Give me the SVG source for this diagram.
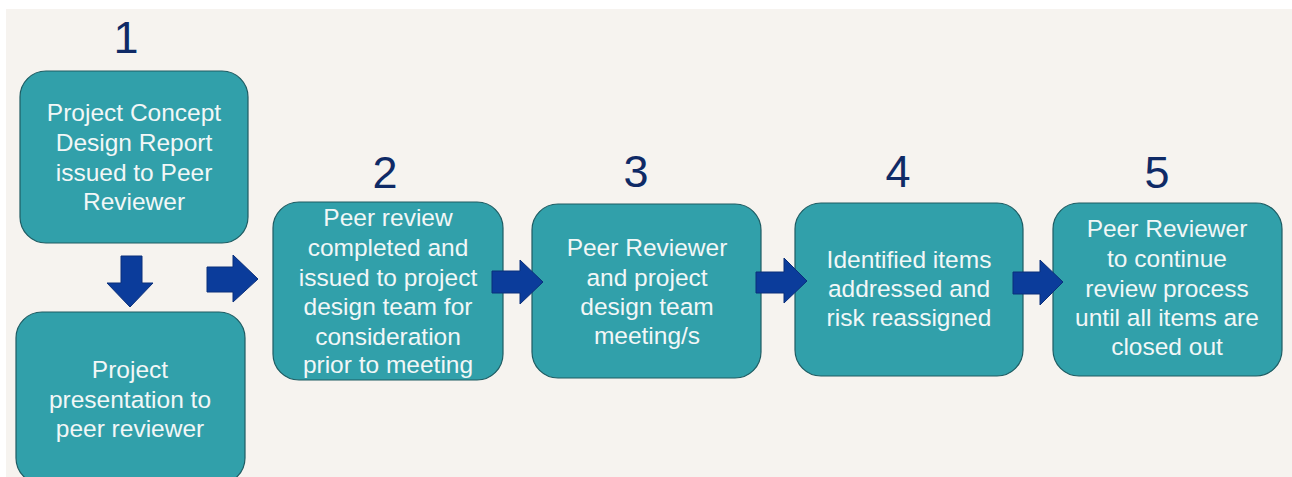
<svg xmlns="http://www.w3.org/2000/svg" width="1292" height="477" viewBox="0 0 1292 477">
<style>
.bg{fill:#f6f3ef}
.box{fill:#31a0aa;stroke:#1e5c63;stroke-width:1.2}
.txt{font-family:"Liberation Sans",Arial,sans-serif;font-size:24.5px;fill:#f2f7f7;text-anchor:middle}
.num{font-family:"Liberation Sans",Arial,sans-serif;font-size:45px;fill:#0f2a66;text-anchor:middle}
.arr{fill:#0b3c9b;stroke:#0a2f7a;stroke-width:1}
</style>
<rect x="0" y="0" width="1292" height="477" fill="#ffffff"/>
<rect class="bg" x="6" y="9" width="1286" height="468"/>

<g id="num-labels">
<text class="num" x="126" y="53">1</text>
<text class="num" x="385" y="188">2</text>
<text class="num" x="636" y="187">3</text>
<text class="num" x="898" y="187">4</text>
<text class="num" x="1157" y="188">5</text>
</g>

<g id="node1a">
<rect class="box" x="20" y="71" width="228" height="172" rx="26"/>
<text class="txt" x="134" y="121">Project Concept</text>
<text class="txt" x="134" y="151">Design Report</text>
<text class="txt" x="134" y="181">issued to Peer</text>
<text class="txt" x="134" y="210">Reviewer</text>
</g>

<g id="node1b">
<rect class="box" x="16" y="312" width="229" height="172" rx="26"/>
<text class="txt" x="130" y="378">Project</text>
<text class="txt" x="130" y="408">presentation to</text>
<text class="txt" x="130" y="437">peer reviewer</text>
</g>

<g id="node2">
<rect class="box" x="273" y="202" width="230" height="178" rx="26"/>
<text class="txt" x="388" y="226">Peer review</text>
<text class="txt" x="388" y="256">completed and</text>
<text class="txt" x="388" y="286">issued to project</text>
<text class="txt" x="388" y="315">design team for</text>
<text class="txt" x="388" y="345">consideration</text>
<text class="txt" x="388" y="373">prior to meeting</text>
</g>

<g id="node3">
<rect class="box" x="532" y="204" width="229" height="174" rx="26"/>
<text class="txt" x="647" y="256">Peer Reviewer</text>
<text class="txt" x="647" y="286">and project</text>
<text class="txt" x="647" y="315">design team</text>
<text class="txt" x="647" y="344">meeting/s</text>
</g>

<g id="node4">
<rect class="box" x="795" y="203" width="228" height="173" rx="26"/>
<text class="txt" x="909" y="268">Identified items</text>
<text class="txt" x="909" y="297">addressed and</text>
<text class="txt" x="909" y="326">risk reassigned</text>
</g>

<g id="node5">
<rect class="box" x="1053" y="203" width="229" height="173" rx="26"/>
<text class="txt" x="1167" y="237">Peer Reviewer</text>
<text class="txt" x="1167" y="267">to continue</text>
<text class="txt" x="1167" y="297">review process</text>
<text class="txt" x="1167" y="326">until all items are</text>
<text class="txt" x="1167" y="355">closed out</text>
</g>

<g id="connectors">
<polygon class="arr" points="121,256 142,256 142,283 153,283 130,307 107,283 121,283"/>
<polygon class="arr" points="207,267 233,267 233,255 258,279 233,302 233,292 207,292"/>
<polygon class="arr" points="492,271 520,271 520,260 543,282 520,304 520,293 492,293"/>
<polygon class="arr" points="756,272 784,272 784,258 807,281 784,303 784,293 756,293"/>
<polygon class="arr" points="1013,272 1040,272 1040,260 1063,282 1040,305 1040,294 1013,294"/>
</g>
</svg>
